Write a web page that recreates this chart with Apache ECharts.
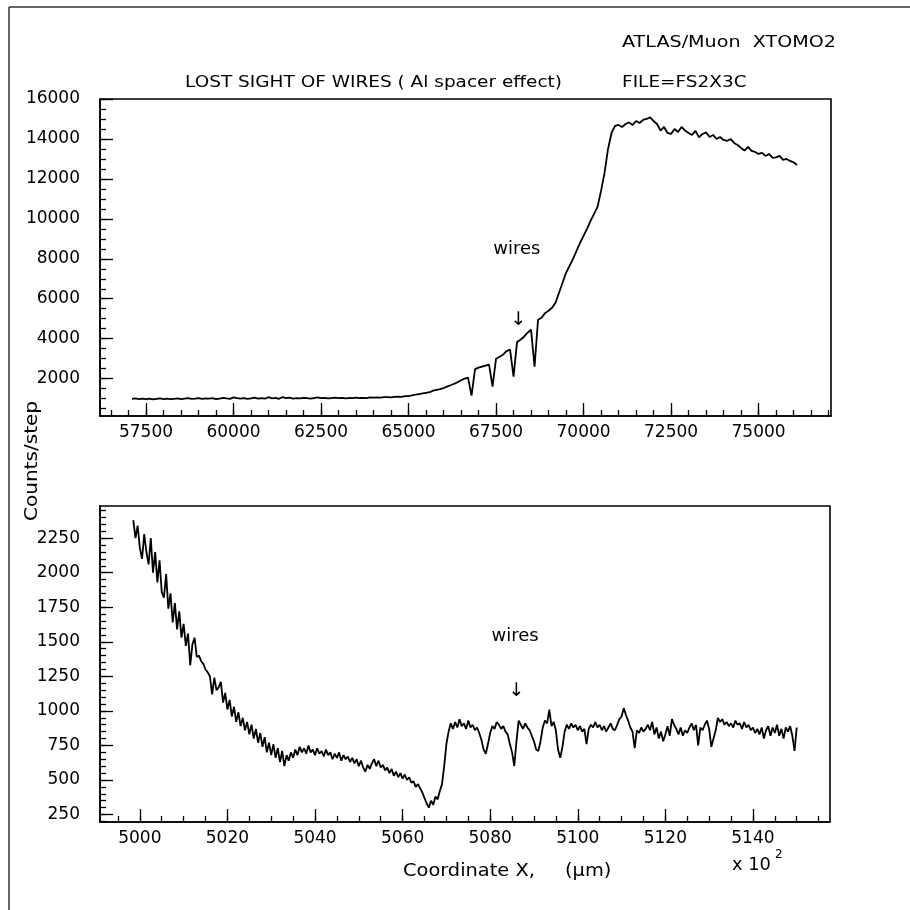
<!DOCTYPE html>
<html><head><meta charset="utf-8">
<script src="https://cdn.jsdelivr.net/npm/echarts@6/dist/echarts.min.js"></script>
<style>html,body{margin:0;padding:0;background:#fff}#c{width:910px;height:910px}</style>
</head><body><div id="c"></div>
<script>
const FONT = 'DejaVu Sans';

// ---------- top panel: counts per scan step (x in micrometres) ----------
const topStart = 57100, topStep = 100;
const topCounts = [
  990,1010,970,1000,980,1000,960,990,1010,980,
  1000,970,990,1010,980,1000,1020,990,1000,1030,
  990,1010,1000,1020,980,1000,1040,1010,990,1060,
  1020,1000,1030,990,1010,1050,1000,1020,1000,1070,
  1010,1040,990,1080,1020,1050,1000,1030,1010,1040,
  1020,1000,1030,1060,1020,1040,1010,1030,1050,1020,
  1040,1010,1030,1020,1050,1030,1040,1020,1060,1050,
  1060,1050,1070,1080,1060,1090,1100,1090,1120,1130,
  1160,1200,1230,1260,1290,1320,1400,1440,1480,1530,
  1600,1670,1740,1820,1920,2000,2050,1150,2480,2550,
  2600,2650,2700,1600,3000,3100,3200,3380,3450,2100,
  3830,3950,4100,4300,4450,2600,4950,5050,5280,5400,
  5550,5800,6300,6800,7300,7650,8000,8400,8800,9150,
  9500,9900,10250,10600,11400,12300,13500,14300,14650,14700,
  14600,14750,14830,14700,14900,14800,14950,15000,15080,14900,
  14750,14420,14600,14300,14250,14500,14350,14600,14420,14300,
  14200,14400,14080,14250,14330,14100,14200,14000,14100,13950,
  13900,14000,13800,13700,13550,13420,13600,13400,13350,13250,
  13300,13150,13250,13050,13080,13150,12950,13000,12900,12830,
  12700
];
const topXTicks = [57500, 60000, 62500, 65000, 67500, 70000, 72500, 75000];
const topYTicks = [2000, 4000, 6000, 8000, 10000, 12000, 14000, 16000];
const topXRange = [56185, 77070];
const topYRange = [130, 16000];
const topNotes = [
  { x: 68095, y: 8450, text: 'wires', size: 18 },
  { x: 68140, y: 4940, text: '↓', size: 19 }
];

// ---------- bottom panel: x in units of 10^2 micrometres ----------
const botStart = 4998.5, botStep = 0.5;
const botCounts = [
  2380,2250,2340,2180,2100,2280,2150,2060,2250,2000,
  2150,1930,2090,1860,1820,1990,1740,1850,1640,1780,
  1590,1720,1530,1630,1470,1560,1330,1480,1530,1390,
  1400,1360,1340,1300,1280,1250,1120,1240,1150,1170,
  1210,1060,1130,1010,1080,960,1030,920,990,890,
  950,860,920,830,900,800,870,770,840,740,
  810,700,770,680,760,660,730,630,710,600,
  680,640,700,660,720,680,740,700,730,690,
  750,700,720,680,730,690,710,670,720,680,
  700,650,690,660,700,640,680,650,670,630,
  660,620,650,600,640,590,560,610,580,620,
  650,600,640,590,610,570,590,550,580,530,
  560,520,550,510,540,500,520,480,490,450,
  470,440,410,370,330,300,350,320,380,360,
  420,470,600,760,850,910,870,920,880,940,
  890,910,870,930,880,900,860,880,840,790,
  720,690,760,840,890,870,920,900,870,890,
  850,830,760,700,600,780,930,900,870,910,
  880,860,820,780,720,710,780,880,930,910,
  1010,890,920,860,720,660,740,850,900,870,
  910,880,900,860,890,850,870,760,870,900,
  880,920,880,900,860,890,850,880,910,870,
  860,900,940,960,1020,970,930,880,850,730,
  860,840,880,850,870,900,860,920,830,880,
  800,850,780,830,890,820,940,900,870,830,
  880,820,860,840,880,910,860,900,750,880,
  860,900,930,870,740,800,860,950,920,940,
  900,920,890,910,880,930,900,910,870,920,
  880,900,860,880,840,870,830,880,800,860,
  890,820,880,840,900,820,870,800,880,850,
  890,820,710,880
];
const botXTicks = [5000, 5020, 5040, 5060, 5080, 5100, 5120, 5140];
const botYTicks = [250, 500, 750, 1000, 1250, 1500, 1750, 2000, 2250];
const botXRange = [4990.9, 5157.6];
const botYRange = [196, 2483];
const botNotes = [
  { x: 5085.7, y: 1537, text: 'wires', size: 18 },
  { x: 5086.0, y: 1144, text: '↓', size: 19 }
];

// ---------- helpers ----------
function multiples(lo, hi, step) {
  const out = [];
  for (let v = Math.ceil(lo / step) * step; v <= hi + 1e-9; v += step) out.push(+v.toFixed(4));
  return out;
}
function pairs(start, step, arr) { return arr.map((v, i) => [+(start + i * step).toFixed(3), v]); }

function axis(dim, grid, range, ticks, len, withLabels) {
  return {
    type: 'value', gridIndex: grid, min: range[0], max: range[1],
    position: dim === 'x' ? 'bottom' : 'left',
    axisLine: { show: withLabels, onZero: false, lineStyle: { color: '#000', width: 1.6 } },
    axisTick: { show: true, inside: true, length: len, customValues: ticks,
                lineStyle: { color: '#000', width: 1.3 } },
    axisLabel: withLabels ? {
      show: true, customValues: ticks, margin: dim === 'x' ? 8 : 20,
      color: '#000', fontFamily: FONT, fontSize: 17, formatter: v => String(v)
    } : { show: false },
    splitLine: { show: false }
  };
}

function noteSeries(notes, xi, yi) {
  return {
    type: 'scatter', xAxisIndex: xi, yAxisIndex: yi, symbolSize: 0, silent: true, z: 10,
    itemStyle: { opacity: 1 },
    data: notes.map(n => ({ value: [n.x, n.y], name: n.text,
      label: { show: true, position: 'inside', formatter: n.text, fontSize: n.size,
               fontFamily: FONT, color: '#000', opacity: 1, textBorderWidth: 0 } }))
  };
}

const chart = echarts.init(document.getElementById('c'), null, { renderer: 'canvas' });
chart.setOption({
  animation: false,
  backgroundColor: '#fff',
  grid: [
    { left: 100, top: 99, width: 731, height: 317, show: true, borderColor: '#000', borderWidth: 1.6, backgroundColor: 'transparent' },
    { left: 100, top: 506, width: 730, height: 316, show: true, borderColor: '#000', borderWidth: 1.6, backgroundColor: 'transparent' }
  ],
  xAxis: [
    axis('x', 0, topXRange, topXTicks, 13, true),
    axis('x', 0, topXRange, multiples(topXRange[0], topXRange[1], 500), 6, false),
    axis('x', 1, botXRange, botXTicks, 13, true),
    axis('x', 1, botXRange, multiples(botXRange[0], botXRange[1], 5), 6, false)
  ],
  yAxis: [
    axis('y', 0, topYRange, topYTicks, 13, true),
    axis('y', 0, topYRange, multiples(topYRange[0], topYRange[1], 500), 6, false),
    axis('y', 1, botYRange, botYTicks, 13, true),
    axis('y', 1, botYRange, multiples(botYRange[0], botYRange[1], 50), 6, false)
  ],
  series: [
    { type: 'line', xAxisIndex: 0, yAxisIndex: 0, showSymbol: false, silent: true,
      lineStyle: { color: '#000', width: 1.8 }, data: pairs(topStart, topStep, topCounts) },
    { type: 'line', xAxisIndex: 2, yAxisIndex: 2, showSymbol: false, silent: true,
      lineStyle: { color: '#000', width: 1.8 }, data: pairs(botStart, botStep, botCounts) },
    noteSeries(topNotes, 0, 0),
    noteSeries(botNotes, 2, 2)
  ],
  graphic: [
    { type: 'line', shape: { x1: 9, y1: 7, x2: 910, y2: 7 }, style: { stroke: '#333', lineWidth: 1.5 } },
    { type: 'line', shape: { x1: 9, y1: 7, x2: 9, y2: 910 }, style: { stroke: '#333', lineWidth: 1.5 } },
    { type: 'text', x: 622, y: 43, scaleX: 1.16,
      style: { text: 'ATLAS/Muon  XTOMO2', fontFamily: FONT, fontSize: 16.5, fill: '#000', align: 'left', verticalAlign: 'middle' } },
    { type: 'text', x: 622, y: 83, scaleX: 1.12,
      style: { text: 'FILE=FS2X3C', fontFamily: FONT, fontSize: 16.5, fill: '#000', align: 'left', verticalAlign: 'middle' } },
    { type: 'text', x: 185, y: 83, scaleX: 1.12,
      style: { text: 'LOST SIGHT OF WIRES ( Al spacer effect)', fontFamily: FONT, fontSize: 16.5, fill: '#000', align: 'left', verticalAlign: 'middle' } },
    { type: 'text', x: 33, y: 461, rotation: Math.PI / 2, scaleX: 1.18,
      style: { text: 'Counts/step', fontFamily: FONT, fontSize: 17, fill: '#000', align: 'center', verticalAlign: 'middle' } },
    { type: 'text', x: 403, y: 872, scaleX: 1.14,
      style: { text: 'Coordinate X,', fontFamily: FONT, fontSize: 17, fill: '#000', align: 'left', verticalAlign: 'middle' } },
    { type: 'text', x: 565, y: 872, scaleX: 1.14,
      style: { text: '(μm)', fontFamily: FONT, fontSize: 17, fill: '#000', align: 'left', verticalAlign: 'middle' } },
    { type: 'text', x: 732, y: 866, scaleX: 1.05,
      style: { text: 'x 10', fontFamily: FONT, fontSize: 17, fill: '#000', align: 'left', verticalAlign: 'middle' } },
    { type: 'text', x: 775, y: 855,
      style: { text: '2', fontFamily: FONT, fontSize: 12, fill: '#000', align: 'left', verticalAlign: 'middle' } }
  ]
});
</script>
</body></html>
